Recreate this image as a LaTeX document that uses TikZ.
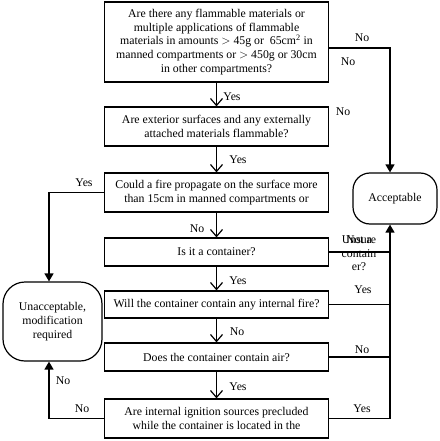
\documentclass[tikz,border=0pt]{standalone}
\usepackage{fontspec}
\setmainfont{Liberation Serif}
\usetikzlibrary{arrows.meta}
\begin{document}
\begin{tikzpicture}[x=1pt,y=-1pt,
  font=\fontsize{11.8}{13.8}\selectfont,
  qbox/.style={draw,line width=1.2pt,align=center,minimum width=224pt,inner sep=1pt},
  term/.style={draw,line width=1.2pt,align=center,rounded corners=17pt,inner sep=1pt},
  conn/.style={line width=1.4pt},
  vee/.style={conn,-{Straight Barb[length=7pt,width=12pt,line width=1.2pt]}},
  tri/.style={conn,-{Triangle[length=8pt,width=9pt]}},
  lbl/.style={inner sep=0pt}]
\useasboundingbox (0,0) rectangle (439,441);
\node[qbox,minimum height=80pt] (b1) at (216.5,42) {Are there any flammable materials or\\multiple applications of flammable\\materials in amounts $>$ 45g or\ \ 65cm\textsuperscript{2} in\\manned compartments or $>$ 450g or 30cm\\in other compartments?};
\node[qbox,minimum height=39pt] (b2) at (216.5,126.5) {Are exterior surfaces and any externally\\attached materials flammable?};
\node[qbox,minimum height=39pt] (b3) at (216.5,192.5) {Could a fire propagate on the surface more\\than 15cm in manned compartments or};
\node[qbox,minimum height=28pt] (b4) at (216.5,252) {Is it a container?};
\node[qbox,minimum height=27pt] (b5) at (216.5,304.5) {Will the container contain any internal fire?};
\node[qbox,minimum height=28pt] (b6) at (216.5,357) {Does the container contain air?};
\node[qbox,minimum height=39pt] (b7) at (216.5,418.5) {Are internal ignition sources precluded\\while the container is located in the};
\node[term,minimum width=84pt,minimum height=51pt] (acc) at (395,198.5) {Acceptable};
\node[term,minimum width=99pt,minimum height=79pt,rounded corners=22pt] (una) at (52.5,321.5) {Unacceptable,\\modification\\required};
\coordinate (xr) at (390,0);
\coordinate (xl) at (49,0);
\coordinate (r1) at (0,48);
% vertical flow
\draw[vee] (b1) -- (b2);
\draw[vee] (b2) -- (b3);
\draw[vee] (b3) -- (b4);
\draw[vee] (b4) -- (b5);
\draw[vee] (b5) -- (b6);
\draw[vee] (b6) -- (b7);
% right side
\draw[tri] (b1.east |- r1) -| (xr |- acc.north);
\draw[conn] (b4.east) -- (xr |- b4.east);
\draw[conn] (b5.east) -- (xr |- b5.east);
\draw[conn] (b6.east) -- (xr |- b6.east);
\draw[tri] (b7.east) -| (xr |- acc.south);
% left side
\draw[tri] (b3.west) -| (xl |- una.north);
\draw[tri] (b7.west) -| (xl |- una.south);
% labels
\node[lbl] (l1) at (362,38) {No};
\node[lbl] (l2) at (348,62) {No};
\node[lbl] (l3) at (232,97) {Yes};
\node[lbl] (l4) at (343,112) {No};
\node[lbl] (l5) at (238,160) {Yes};
\node[lbl] (l6) at (84,183) {Yes};
\node[lbl] (l7) at (197,229) {No};
\node[lbl] (l8a) at (359,240) {Unsure};
\node[lbl] (l8b) at (359,240) {Not a};
\node[lbl] (l8c) at (359,253.5) {contain};
\node[lbl] (l8d) at (359,267) {er?};
\node[lbl] (l9) at (238,281) {Yes};
\node[lbl] (l10) at (363,290) {Yes};
\node[lbl] (l11) at (237,332) {No};
\node[lbl] (l12) at (362,350) {No};
\node[lbl] (l13) at (238,387) {Yes};
\node[lbl] (l14) at (82,409) {No};
\node[lbl] (l15) at (63,381) {No};
\node[lbl] (l16) at (362,409) {Yes};
\end{tikzpicture}
\end{document}
